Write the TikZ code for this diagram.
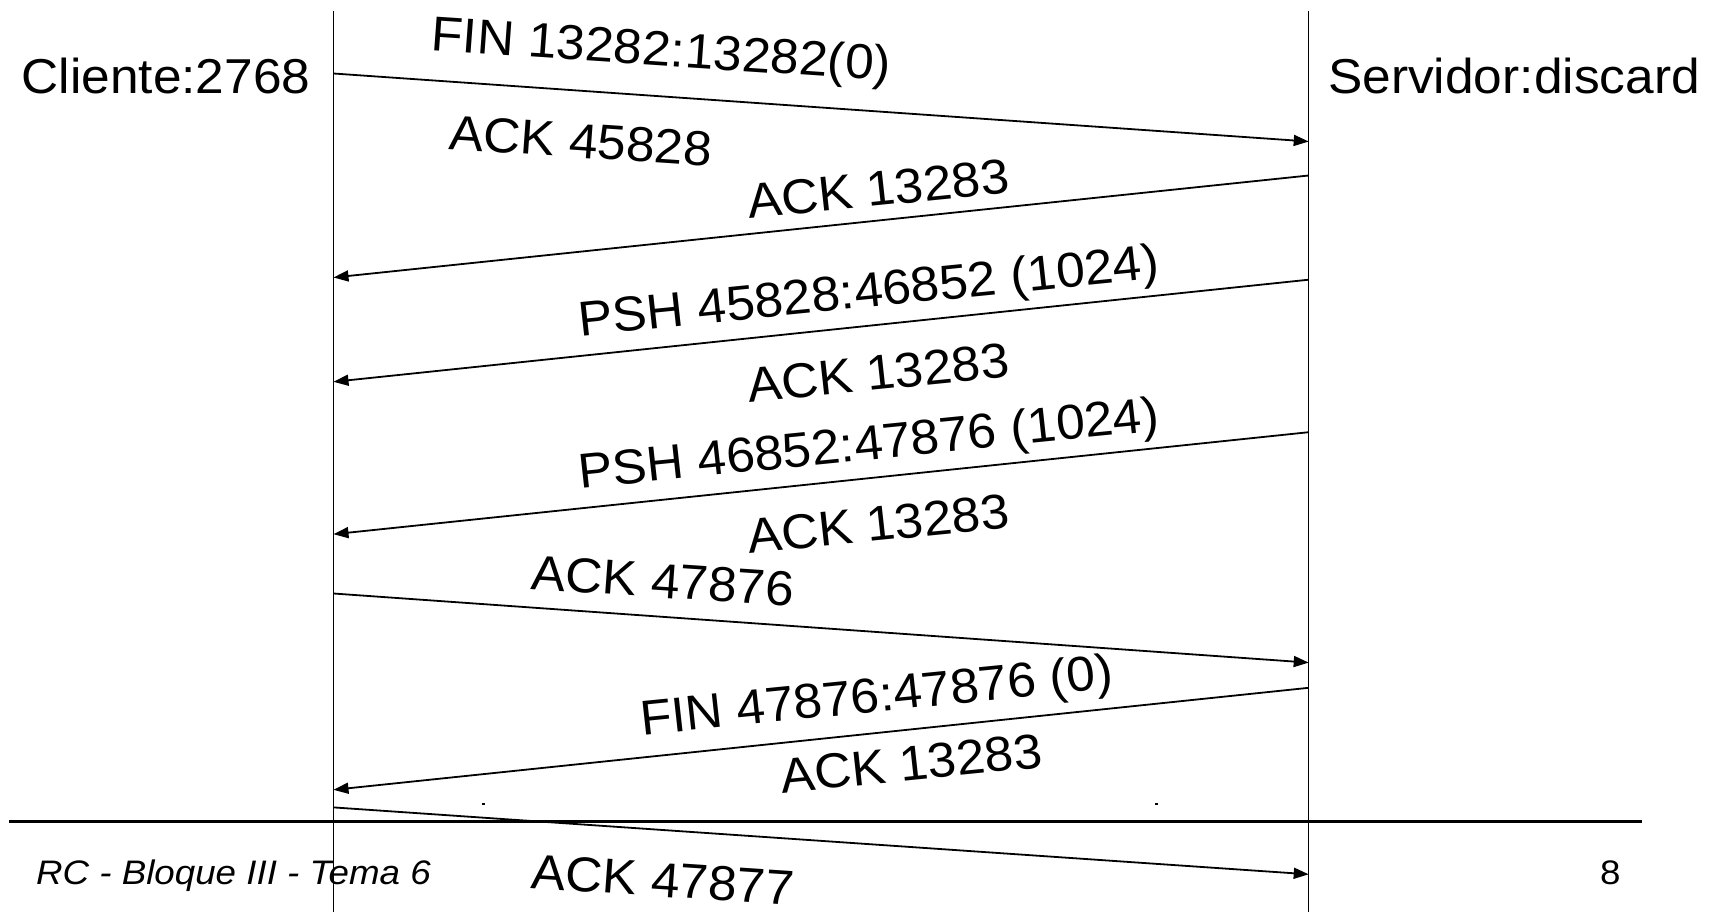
\documentclass[tikz,border=0pt]{standalone}
\usepackage{fontspec}
\setmainfont{Liberation Sans}
\usetikzlibrary{arrows.meta}
\tikzset{
  lifeline/.style={line width=1.4pt},
  msg/.style={line width=1.8pt,-{Triangle[length=15pt,width=11pt]}},
  lbl/.style={font=\fontsize{49}{56}\selectfont, inner sep=0pt, xscale=1.05},
  downlbl/.style={lbl, rotate=-4},
  uplbl/.style={lbl, rotate=6},
  foot/.style={font=\fontsize{34}{40}\selectfont, inner sep=0pt, xscale=1.08, anchor=base west}
}
\begin{document}
\begin{tikzpicture}[x=1pt,y=-1pt]
\useasboundingbox (0,0) rectangle (1720,912);
% lifelines
\coordinate (ctop) at (333.5,11);
\coordinate (cbot) at (333.5,912);
\coordinate (stop) at (1308.7,11);
\coordinate (sbot) at (1308.7,912);
\draw[lifeline] (ctop) -- (cbot);
\draw[lifeline] (stop) -- (sbot);
% footer line
\coordinate (fl) at (9,821.6);
\coordinate (fr) at (1642,821.6);
\draw[line width=2.6pt] (fl) -- (fr);
% participants
\node[lbl, anchor=base] (cli) at (166,93.3) {Cliente:2768};
\node[lbl, anchor=base] (srv) at (1514,93.3) {Servidor:discard};
% message endpoints
\coordinate (c1) at (333.5,73.5);  \coordinate (s1) at (1308.7,141.5);
\coordinate (s2) at (1308.7,175.5); \coordinate (c2) at (333.5,277.5);
\coordinate (s3) at (1308.7,279.7); \coordinate (c3) at (333.5,381.8);
\coordinate (s4) at (1308.7,432.2); \coordinate (c4) at (333.5,534.2);
\coordinate (c5) at (333.5,593.5);  \coordinate (s5) at (1308.7,662.6);
\coordinate (s6) at (1308.7,687.8); \coordinate (c6) at (333.5,789.8);
\coordinate (c7) at (333.5,807.4);  \coordinate (s7) at (1308.7,874.3);
\draw[msg] (c1) -- (s1);
\draw[msg] (s2) -- (c2);
\draw[msg] (s3) -- (c3);
\draw[msg] (s4) -- (c4);
\draw[msg] (c5) -- (s5);
\draw[msg] (s6) -- (c6);
\draw[msg] (c7) -- (s7);
% labels
\node[downlbl] (l1) at (661,53) {FIN 13282:13282(0)};
\node[downlbl] (l2) at (581,141) {ACK 45828};
\node[uplbl] (l3) at (878,189) {ACK 13283};
\node[uplbl] (l4) at (869,294.5) {PSH 45828:46852 (1024)};
\node[uplbl] (l5) at (878,373) {ACK 13283};
\node[uplbl] (l6) at (869,447) {PSH 46852:47876 (1024)};
\node[uplbl] (l7) at (878,524) {ACK 13283};
\node[downlbl] (l8) at (663,581) {ACK 47876};
\node[uplbl] (l9) at (877,699) {FIN 47876:47876 (0)};
\node[uplbl] (l10) at (911,763.5) {ACK 13283};
\node[downlbl] (l11) at (663,880) {ACK 47877};
% stray dots
\fill (482,803) rectangle (484.5,805);
\fill (1155,803) rectangle (1157.5,805);
% footer
\node[foot] (ft) at (36,884) {\itshape RC - Bloque III - Tema 6};
\node[foot] (pg) at (1600,884) {8};
\end{tikzpicture}
\end{document}
